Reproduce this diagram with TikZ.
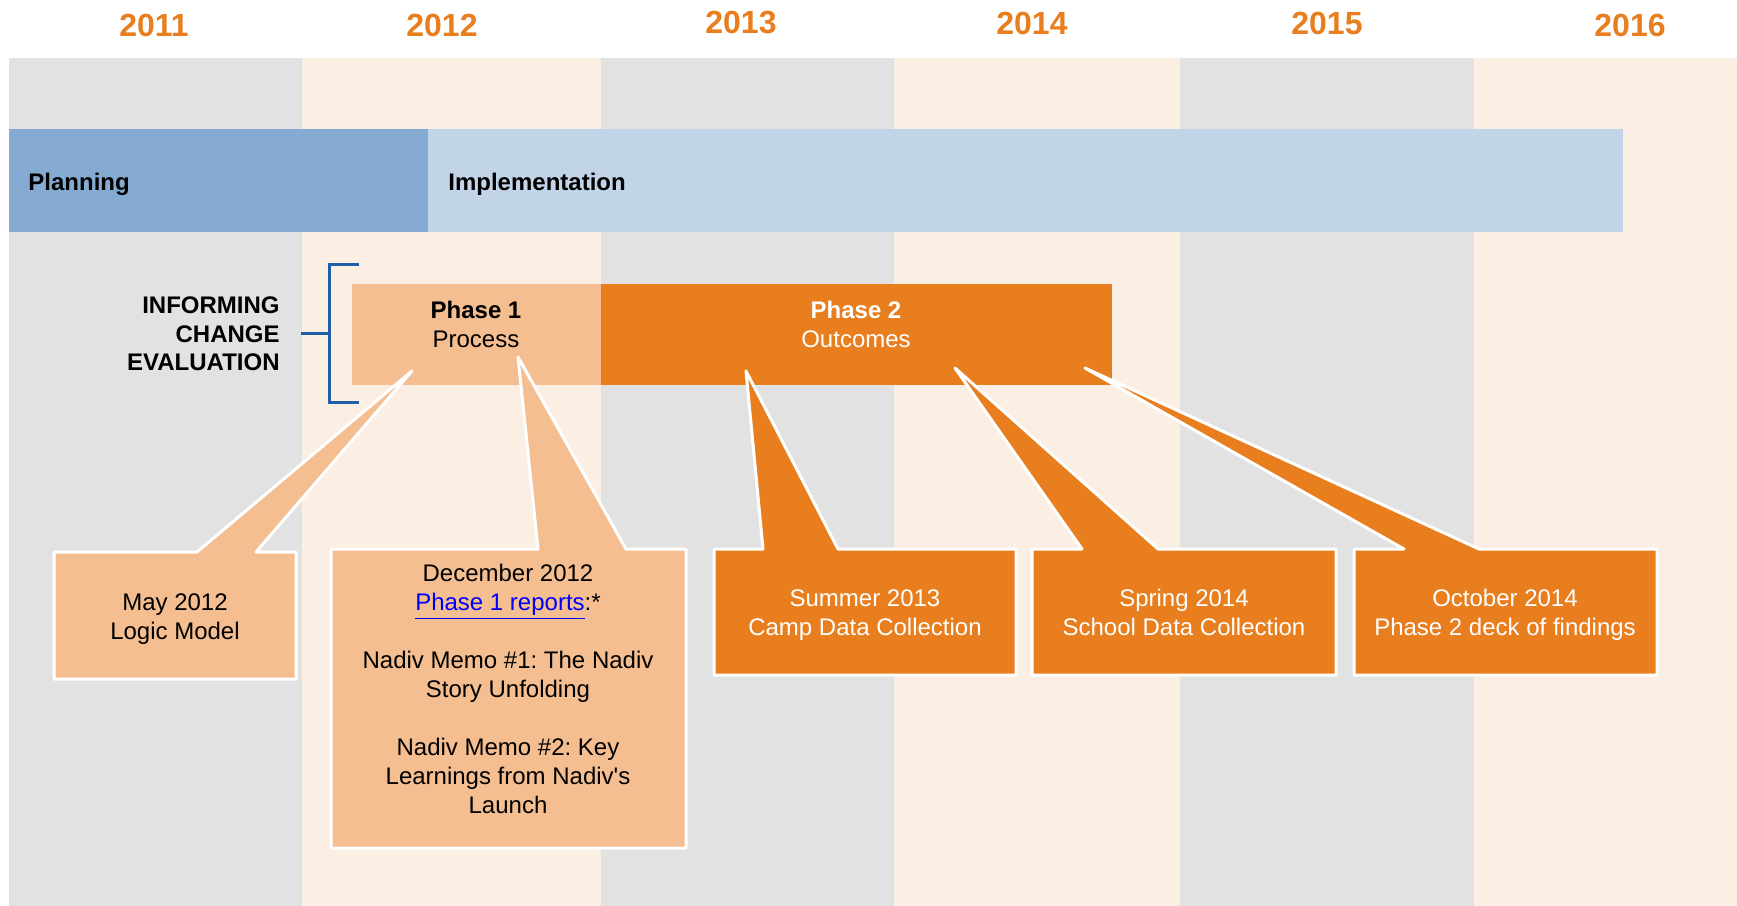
\documentclass[tikz,border=0pt]{standalone}
\usepackage{fontspec}
\setmainfont{Liberation Sans}
\frenchspacing
\definecolor{stripegray}{HTML}{E2E2E2}
\definecolor{stripecream}{HTML}{FBEEE2}
\definecolor{planblue}{HTML}{85ABD3}
\definecolor{implblue}{HTML}{C2D4E8}
\definecolor{lightorange}{HTML}{F4BE90}
\definecolor{darkorange}{HTML}{E87E1E}
\definecolor{bracketblue}{HTML}{1F60A9}
\definecolor{linkblue}{HTML}{0000FF}
\begin{document}
\begin{tikzpicture}[x=0.5pt,y=-0.5pt,
  yearlabel/.style={font=\fontsize{16}{18}\selectfont\bfseries, text=darkorange, inner sep=0pt},
  barlabel/.style={font=\fontsize{12}{14}\selectfont\bfseries, anchor=west, inner sep=0pt},
  txt/.style={font=\fontsize{12}{14.5}\selectfont, align=center, inner sep=0pt},
  callout/.style={draw=white, line width=1.5pt, line join=round},
  lightcallout/.style={callout, fill=lightorange},
  darkcallout/.style={callout, fill=darkorange},
  bracketline/.style={draw=bracketblue, line width=1.5pt}]
\useasboundingbox (0,0) rectangle (1737,906);
\fill[white] (0,0) rectangle (1737,906);

% year columns
\fill[stripegray]  (9,58)    rectangle (302,906);
\fill[stripecream] (302,58)  rectangle (601,906);
\fill[stripegray]  (601,58)  rectangle (894,906);
\fill[stripecream] (894,58)  rectangle (1180,906);
\fill[stripegray]  (1180,58) rectangle (1474,906);
\fill[stripecream] (1474,58) rectangle (1737,906);

% year headings
\node[yearlabel] (y2011) at (154,25) {2011};
\node[yearlabel] (y2012) at (442,25) {2012};
\node[yearlabel] (y2013) at (741,23) {2013};
\node[yearlabel] (y2014) at (1032,23) {2014};
\node[yearlabel] (y2015) at (1327,23) {2015};
\node[yearlabel] (y2016) at (1630,25) {2016};

% planning / implementation bar
\fill[planblue] (9,129) rectangle (428,232);
\fill[implblue] (428,129) rectangle (1623,232);
\node[barlabel] (planning) at (28,184) {Planning};
\node[barlabel] (implementation) at (448,184) {Implementation};

% evaluation phases
\fill[lightorange] (352,284) rectangle (601,385);
\fill[darkorange]  (601,284) rectangle (1112,385);
\node[txt] (phase1) at (476,324) {\textbf{Phase 1}\\Process};
\node[txt, text=white] (phase2) at (856,324) {\textbf{Phase 2}\\Outcomes};

% bracket and label
\draw[bracketline] (359,264) -- (329,264) -- (329,402) -- (359,402);
\draw[bracketline] (301,333) -- (329,333);
\node[txt, align=right, anchor=east, font=\fontsize{12}{14.25}\selectfont\bfseries] (ice) at (280,334)
  {INFORMING\\CHANGE\\EVALUATION};

% callouts
\draw[lightcallout] (54,552) -- (197,552) -- (412,371) -- (256,552) -- (296,552)
  -- (296,679) -- (54,679) -- cycle;
\draw[lightcallout] (331,549) -- (538,549) -- (518,357) -- (626,549) -- (686,549)
  -- (686,848) -- (331,848) -- cycle;
\draw[darkcallout] (714,549) -- (763,549) -- (746,371) -- (838,549) -- (1016,549)
  -- (1016,675) -- (714,675) -- cycle;
\draw[darkcallout] (1032,549) -- (1082,549) -- (955,368) -- (1158,549) -- (1336,549)
  -- (1336,675) -- (1032,675) -- cycle;
\draw[darkcallout] (1354,549) -- (1404,549) -- (1085,368) -- (1479,549) -- (1657,549)
  -- (1657,675) -- (1354,675) -- cycle;

% callout texts
\node[txt] (may) at (175,619) {May 2012\\Logic Model};
\node[txt] (dec) at (508,689) {December 2012\\
  \textcolor{linkblue}{\underline{Phase 1 reports}}:*\\[14.5pt]
  Nadiv Memo \#1: The Nadiv\\Story Unfolding\\[14.5pt]
  Nadiv Memo \#2: Key\\Learnings from Nadiv\textquotesingle s\\Launch};
\node[txt, text=white] (summer) at (865,615) {Summer 2013\\Camp Data Collection};
\node[txt, text=white] (spring) at (1184,612) {Spring 2014\\School Data Collection};
\node[txt, text=white] (october) at (1505,615) {October 2014\\Phase 2 deck of findings};
\end{tikzpicture}
\end{document}
